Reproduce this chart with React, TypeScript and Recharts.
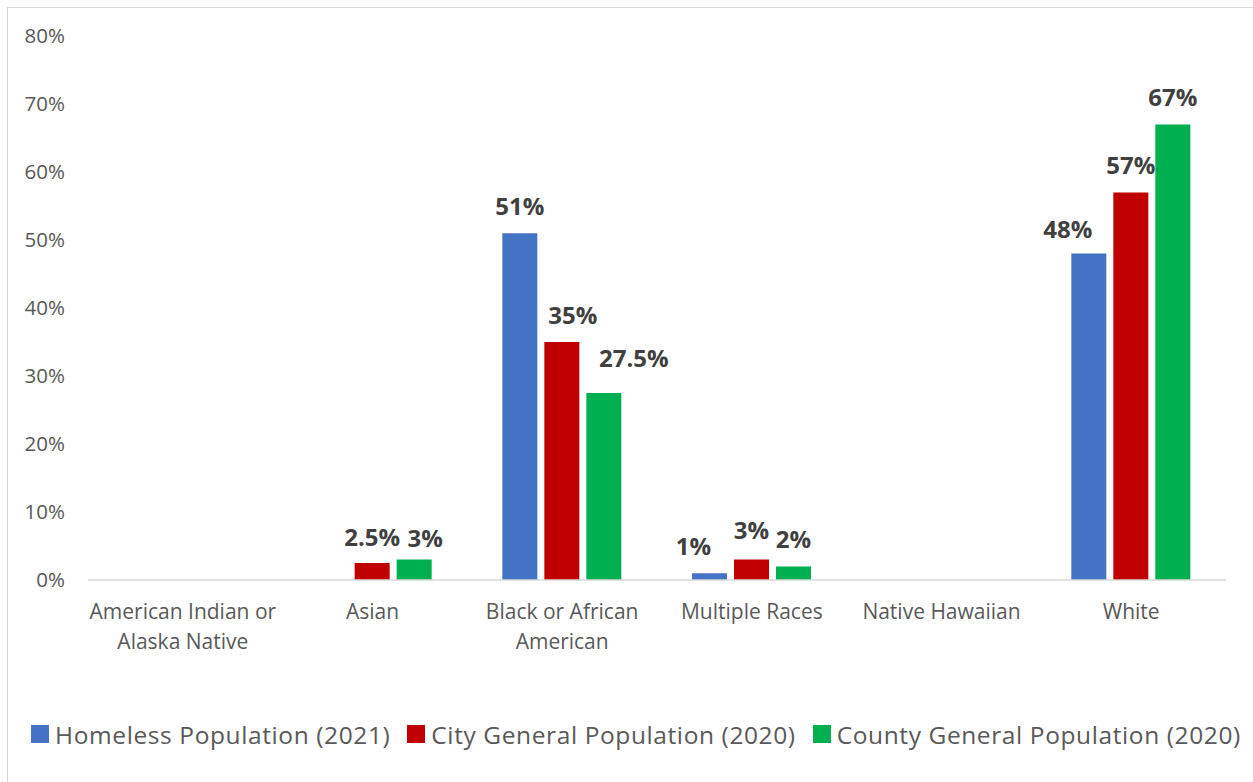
import React from 'react';
import { BarChart, Bar, XAxis, YAxis, Legend, LabelList } from 'recharts';

const categories = [
  'American Indian or\nAlaska Native',
  'Asian',
  'Black or African\nAmerican',
  'Multiple Races',
  'Native Hawaiian',
  'White',
];
const homeless2021: (number | null)[] = [null, null, 51, 1, null, 48];
const city2020: (number | null)[] = [null, 2.5, 35, 3, null, 57];
const county2020: (number | null)[] = [null, 3, 27.5, 2, null, 67];
const yTicks = [0, 10, 20, 30, 40, 50, 60, 70, 80];

const SERIES = [
  { key: 'homeless', name: 'Homeless Population (2021)', color: '#4472C4' },
  { key: 'city', name: 'City General Population (2020)', color: '#C00000' },
  { key: 'county', name: 'County General Population (2020)', color: '#00B050' },
];

// manual label nudges (like Excel's moved labels), in px: [dx, dy], keyed by category index
const labelNudge: Record<string, Record<number, [number, number]>> = {
  homeless: { 3: [-16, 0], 5: [-21, 2] },
  city: { 1: [0, 1], 2: [11, 0], 3: [0, -3] },
  county: { 1: [11, 5], 2: [30, -8] },
};

const data = categories.map((c, i) => ({
  idx: i,
  category: c,
  homeless: homeless2021[i],
  city: city2020[i],
  county: county2020[i],
}));

const FONT = '"Open Sans", Lato, sans-serif';

const CategoryTick = (props: any) => {
  const { x, y, payload } = props;
  const lines = String(payload.value).split('\n');
  return (
    <g transform={`translate(${x},${y})`}>
      <text textAnchor="middle" fill="#595959" fontSize={21} fontFamily={FONT}>
        {lines.map((l, i) => (
          <tspan key={i} x={0} dy={i === 0 ? 31 : 30}>
            {l}
          </tspan>
        ))}
      </text>
    </g>
  );
};

const makeLabel = (key: string) => (props: any) => {
  const { x, y, width, value } = props;
  if (value === null || value === undefined || value === '') return null;
  const [idxStr, valStr] = String(value).split('|');
  const n = (labelNudge[key] && labelNudge[key][Number(idxStr)]) || [0, 0];
  return (
    <text
      x={Number(x) + Number(width) / 2 + n[0]}
      y={Number(y) - 18 + n[1]}
      textAnchor="middle"
      fill="#404040"
      fontSize={24}
      fontWeight={700}
      fontFamily={FONT}
    >
      {`${valStr}%`}
    </text>
  );
};

const LegendContent = () => (
  <div
    style={{
      display: 'flex',
      alignItems: 'center',
      height: 40,
      paddingLeft: 23,
      fontFamily: FONT,
      fontSize: 24.5,
      letterSpacing: 0.6,
      color: '#595959',
      whiteSpace: 'nowrap',
    }}
  >
    {SERIES.map((s) => (
      <div key={s.key} style={{ display: 'flex', alignItems: 'center', marginRight: 17 }}>
        <span style={{ width: 18, height: 18, background: s.color, display: 'inline-block', marginRight: 6 }} />
        <span>{s.name}</span>
      </div>
    ))}
  </div>
);

export default function App() {
  return (
    <div
      style={{
        position: 'fixed',
        left: 7,
        top: 7,
        borderLeft: '1px solid #d9d9d9',
        borderTop: '1px solid #d9d9d9',
        background: '#fff',
      }}
    >
      <BarChart
        width={1245}
        height={774}
        data={data}
        margin={{ top: 28, right: 27, left: 0, bottom: 28 }}
        barSize={35}
        barGap={7}
      >
        <XAxis
          dataKey="category"
          interval={0}
          height={134}
          tickLine={false}
          axisLine={{ stroke: '#d9d9d9', strokeWidth: 1.5 }}
          tick={<CategoryTick />}
        />
        <YAxis
          width={80}
          domain={[0, 80]}
          ticks={yTicks}
          interval={0}
          axisLine={false}
          tickLine={false}
          tickMargin={17}
          tickFormatter={(v: number) => `${v}%`}
          tick={{ fill: '#595959', fontSize: 20.5, fontFamily: FONT }}
        />
        <Legend verticalAlign="bottom" align="left" content={<LegendContent />} />
        {SERIES.map((s) => (
          <Bar key={s.key} dataKey={s.key} name={s.name} fill={s.color} isAnimationActive={false}>
            <LabelList
              dataKey={(d: any) => (d[s.key] === null || d[s.key] === undefined ? null : `${d.idx}|${d[s.key]}`)}
              content={makeLabel(s.key)}
            />
          </Bar>
        ))}
      </BarChart>
    </div>
  );
}
